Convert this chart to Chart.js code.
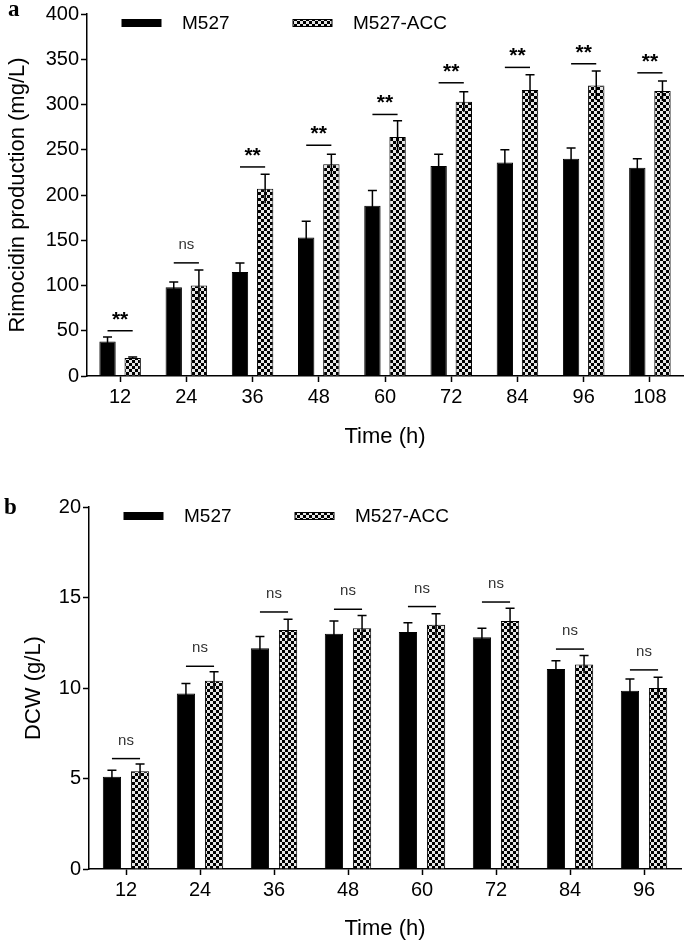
<!DOCTYPE html>
<html>
<head>
<meta charset="utf-8">
<script src="https://cdn.jsdelivr.net/npm/chart.js@4.4.1/dist/chart.umd.min.js"></script>
<style>
    body { margin: 0; background: #fff; }
    .panel { position: absolute; left: 0; width: 685px; }
    .letter { position: absolute; font: bold 23px 'Liberation Serif', 'Times New Roman', serif; color: #000; }
</style>
</head>
<body>
<div class="panel" style="top:0;height:458px"><canvas id="chartA"></canvas></div>
<div class="panel" style="top:458px;height:486px"><canvas id="chartB"></canvas></div>
<div class="letter" style="left:8px;top:-4px">a</div>
<div class="letter" style="left:4px;top:494px">b</div>
<script>
// panel a - rimocidin production
const timeA = ['12', '24', '36', '48', '60', '72', '84', '96', '108'];
const m527A = [38, 98, 115, 153, 188, 232, 236, 240, 230];
const m527ErrA = [5, 6, 10, 18, 17, 13, 14, 12, 10];
const accA = [20, 100, 207, 234, 264, 303, 316, 321, 315];
const accErrA = [1, 17, 16, 11, 18, 11, 17, 16, 11];
const sigA = ['**', 'ns', '**', '**', '**', '**', '**', '**', '**'];
const sigLineA = [50, 125, 231, 255, 289, 324, 341, 345, 335];

// panel b - dry cell weight
const timeB = ['12', '24', '36', '48', '60', '72', '84', '96'];
const m527B = [5.1, 9.7, 12.2, 13.0, 13.1, 12.8, 11.05, 9.85];
const m527ErrB = [0.35, 0.55, 0.65, 0.7, 0.5, 0.5, 0.45, 0.65];
const accB = [5.4, 10.4, 13.2, 13.3, 13.5, 13.7, 11.3, 10.0];
const accErrB = [0.4, 0.5, 0.6, 0.7, 0.6, 0.7, 0.5, 0.6];
const sigB = ['ns', 'ns', 'ns', 'ns', 'ns', 'ns', 'ns', 'ns'];
const sigLineB = [6.1, 11.2, 14.2, 14.35, 14.5, 14.75, 12.15, 11.0];

const seriesNames = ['M527', 'M527-ACC'];
const FONT = "'Liberation Sans', Arial, sans-serif";

// checkered fill for the ACC strain
function makeChecker() {
    const c = document.createElement('canvas');
    c.width = 6; c.height = 6;
    const g = c.getContext('2d');
    g.fillStyle = '#e6e6e6';
    g.fillRect(0, 0, 6, 6);
    g.fillStyle = '#000';
    g.fillRect(0, 0, 3, 3);
    g.fillRect(3, 3, 3, 3);
    return g.createPattern(c, 'repeat');
}
const checker = makeChecker();

// error bars + significance brackets
const extrasPlugin = {
    id: 'extras',
    afterDatasetsDraw(chart, args, opts) {
        const ctx = chart.ctx;
        const y = chart.scales.y;
        ctx.save();
        ctx.strokeStyle = '#000';
        ctx.lineWidth = 1.5;
        opts.errors.forEach((errs, i) => {
            const meta = chart.getDatasetMeta(i);
            const vals = chart.data.datasets[i].data;
            meta.data.forEach((bar, j) => {
                const top = y.getPixelForValue(vals[j] + errs[j]);
                const low = y.getPixelForValue(vals[j] - errs[j]);
                ctx.beginPath();
                ctx.moveTo(bar.x, low);
                ctx.lineTo(bar.x, top);
                ctx.moveTo(bar.x - 4.5, top);
                ctx.lineTo(bar.x + 4.5, top);
                ctx.stroke();
            });
        });
        const m0 = chart.getDatasetMeta(0), m1 = chart.getDatasetMeta(1);
        opts.lines.forEach((v, j) => {
            const x1 = m0.data[j].x, x2 = m1.data[j].x;
            const ly = y.getPixelForValue(v);
            ctx.lineWidth = 1.5;
            ctx.beginPath();
            ctx.moveTo(x1, ly);
            ctx.lineTo(x2, ly);
            ctx.stroke();
            ctx.textAlign = 'center';
            ctx.textBaseline = 'alphabetic';
            if (opts.marks[j] === 'ns') {
                ctx.fillStyle = '#333';
                ctx.font = '15px ' + FONT;
                ctx.fillText('ns', (x1 + x2) / 2, ly - 14);
            } else {
                ctx.fillStyle = '#000';
                ctx.font = 'bold 21px ' + FONT;
                ctx.fillText(opts.marks[j], (x1 + x2) / 2, ly - 5);
            }
        });
        ctx.restore();
    }
};

// legend drawn inside the plot, like the original
const legendPlugin = {
    id: 'innerLegend',
    afterDraw(chart) {
        const ctx = chart.ctx;
        const a = chart.chartArea;
        const cy = a.top + 9;
        ctx.save();
        const fills = ['#000', checker];
        const sx = [35, 206], tx = [95, 266];
        fills.forEach((f, i) => {
            ctx.fillStyle = f;
            ctx.fillRect(a.left + sx[i], cy - 3.5, 39, 7);
            ctx.strokeStyle = '#000';
            ctx.lineWidth = 1;
            ctx.strokeRect(a.left + sx[i], cy - 3.5, 39, 7);
            ctx.fillStyle = '#000';
            ctx.font = '19px ' + FONT;
            ctx.textAlign = 'left';
            ctx.textBaseline = 'middle';
            ctx.fillText(seriesNames[i], a.left + tx[i], cy + 1);
        });
        ctx.restore();
    }
};

function makeChart(id, labels, s0, s1, e0, e1, marks, lines, yMax, step, yTitle, cfg) {
    const ctx = document.getElementById(id).getContext('2d');
    return new Chart(ctx, {
        type: 'bar',
        data: {
            labels: labels,
            datasets: [
                {
                    label: seriesNames[0],
                    data: s0,
                    backgroundColor: '#000',
                    borderColor: '#000',
                    borderWidth: 1,
                    categoryPercentage: 0.76,
                    barPercentage: 0.65
                },
                {
                    label: seriesNames[1],
                    data: s1,
                    backgroundColor: checker,
                    borderColor: '#000',
                    borderWidth: 1,
                    categoryPercentage: 0.76,
                    barPercentage: 0.65
                }
            ]
        },
        options: {
            responsive: true,
            maintainAspectRatio: false,
            animation: false,
            layout: { padding: { top: cfg.top, right: cfg.right, left: 0, bottom: 0 } },
            plugins: {
                legend: { display: false },
                tooltip: { enabled: false },
                extras: { errors: [e0, e1], marks: marks, lines: lines }
            },
            scales: {
                x: {
                    afterFit: s => { s.height = cfg.xHeight; },
                    grid: { display: true, drawOnChartArea: false, offset: false, tickLength: 6, tickWidth: 1.5, tickColor: '#000' },
                    border: { color: '#000', width: 1.5 },
                    ticks: { color: '#000', font: { family: FONT, size: 20 }, padding: 3, maxRotation: 0 },
                    title: { display: true, text: 'Time (h)', color: '#000', font: { family: FONT, size: 22 }, padding: { top: 0, bottom: cfg.xTitlePad } }
                },
                y: {
                    min: 0,
                    max: yMax,
                    afterFit: s => { s.width = cfg.yWidth; },
                    grid: { display: true, drawOnChartArea: false, tickLength: 6, tickWidth: 1.5, tickColor: '#000' },
                    border: { color: '#000', width: 1.5 },
                    ticks: { stepSize: step, color: '#000', font: { family: FONT, size: 20 }, padding: 2 },
                    title: { display: true, text: yTitle, color: '#000', font: { family: FONT, size: 22 }, padding: { top: cfg.yTitlePad, bottom: 0 } }
                }
            }
        },
        plugins: [extrasPlugin, legendPlugin]
    });
}

makeChart('chartA', timeA, m527A, accA, m527ErrA, accErrA, sigA, sigLineA, 400, 50,
    'Rimocidin production (mg/L)',
    { top: 11, right: 2, xHeight: 82, yWidth: 87, xTitlePad: 8, yTitlePad: 5 });

makeChart('chartB', timeB, m527B, accB, m527ErrB, accErrB, sigB, sigLineB, 20, 5,
    'DCW (g/L)',
    { top: 49, right: 4, xHeight: 75, yWidth: 89, xTitlePad: 2, yTitlePad: 21 });
</script>
</body>
</html>
